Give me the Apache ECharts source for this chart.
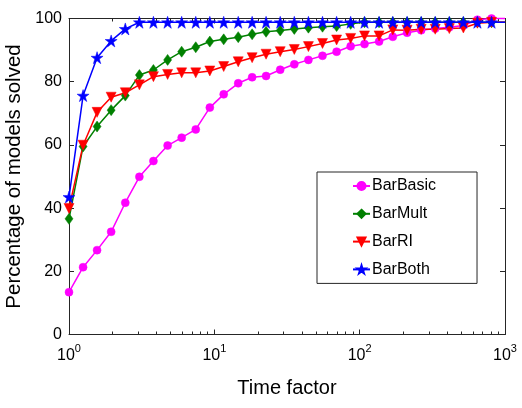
<!DOCTYPE html>
<html>
<head>
<meta charset="utf-8">
<script src="https://cdn.jsdelivr.net/npm/echarts@6/dist/echarts.min.js"></script>
<style>
  html, body { margin: 0; padding: 0; background: #fff; }
  #chart { width: 522px; height: 408px; }
</style>
</head>
<body>
<div id="chart"></div>
<script>
//----------------------Data----------------------
let time_factor = [1, 1.25, 1.56, 1.95, 2.44, 3.05, 3.81, 4.77, 5.96, 7.45, 9.31,
    11.6, 14.6, 18.2, 22.7, 28.4, 35.5, 44.4, 55.5, 69.4, 86.7,
    108, 136, 169, 212, 265, 331, 414, 517, 646, 808, 1000];
let bar_basic = [13.4, 21.3, 26.7, 32.5, 41.7, 49.9, 54.9, 59.8, 62.3, 64.9, 71.8,
    76.0, 79.5, 81.4, 81.8, 83.8, 85.5, 86.9, 88.2, 89.5, 91.2,
    91.9, 92.7, 94.2, 95.5, 96.3, 96.8, 97.2, 97.8, 99.6, 100, 100];
let bar_mult = [36.6, 59.5, 65.8, 71.0, 75.6, 82.1, 83.7, 86.9, 89.5, 90.9, 92.7,
    93.4, 94.1, 95.0, 95.8, 96.2, 96.7, 97.1, 97.4, 97.6, 98.3,
    98.8, 98.8, 98.8, 98.8, 98.8, 98.8, 98.8, 98.8, 98.8, 98.8, 98.8];
let bar_ri = [39.9, 59.9, 70.3, 75.1, 76.5, 79.0, 81.6, 82.3, 82.8, 82.8, 83.4,
    84.8, 86.3, 87.6, 88.7, 89.5, 90.2, 91.1, 92.1, 93.2, 93.7,
    94.5, 94.5, 96.4, 96.3, 96.6, 96.6, 96.8, 97.0, 98.5, 98.8, 98.8];
let bar_both = [43.5, 75.6, 87.6, 92.9, 96.7, 98.8, 98.8, 98.8, 98.8, 98.8, 98.8,
    98.8, 98.8, 98.8, 98.8, 98.8, 98.8, 98.8, 98.8, 98.8, 98.8,
    98.8, 98.8, 98.8, 98.8, 98.8, 98.8, 98.8, 98.8, 98.8, 98.8, 98.8];
let series_names = ['BarBasic', 'BarMult', 'BarRI', 'BarBoth'];
let minor_ticks = [2, 3, 4, 5, 6, 7, 8, 9, 20, 30, 40, 50, 60, 70, 80, 90,
    200, 300, 400, 500, 600, 700, 800, 900];
let y_ticks = [0, 20, 40, 60, 80, 100];

//---------------------Styles---------------------
let font_family = '"Liberation Sans", Arial, Helvetica, sans-serif';
let axis_color = '#262626';
let star_path = 'path://M50,0 L61.2,34.5 L97.6,34.5 L68.2,55.9 L79.4,90.5 L50,69.1 L20.6,90.5 L31.8,55.9 L2.4,34.5 L38.8,34.5 Z';

let chart_dom = document.getElementById('chart');
let chart = echarts.init(chart_dom, null, {renderer: 'canvas'});

//----------------------Grid----------------------
let chart_grid = {
    left: 69,
    right: 17,
    top: 18.5,
    bottom: 73.5,
    outerBoundsMode: 'none',
    containLabel: false
};

//----------------------Axis----------------------
function logAxis(position, with_labels, minor) {
    return {
        type: 'log',
        logBase: 10,
        min: 1,
        max: 1000,
        position: position,
        gridIndex: 0,
        axisLine: {show: !minor, onZero: false, lineStyle: {color: axis_color, width: 1}},
        axisTick: minor ? {
            show: true, inside: true, length: 3,
            customValues: minor_ticks,
            lineStyle: {color: axis_color, width: 1}
        } : {
            show: true, inside: true, length: 5,
            lineStyle: {color: axis_color, width: 1}
        },
        axisLabel: {
            show: with_labels,
            margin: 9,
            formatter: function (v) {
                return '{b|10}{s|' + Math.round(Math.log10(v)) + '}';
            },
            rich: {
                b: {fontSize: 16, fontFamily: font_family, color: '#000', lineHeight: 20, verticalAlign: 'bottom'},
                s: {fontSize: 11, fontFamily: font_family, color: '#000', lineHeight: 20, verticalAlign: 'top'}
            }
        },
        splitLine: {show: false},
        minorTick: {show: false},
        name: with_labels ? 'Time factor' : '',
        nameLocation: 'middle',
        nameGap: 44,
        nameTextStyle: {fontSize: 20, fontFamily: font_family, color: '#000'},
        silent: true
    };
}
let chart_xAxis = [
    logAxis('bottom', true, false),
    logAxis('bottom', false, true),
    logAxis('top', false, false),
    logAxis('top', false, true)
];
function valueAxis(position, with_labels) {
    return {
        type: 'value',
        min: 0,
        max: 100,
        interval: 20,
        position: position,
        gridIndex: 0,
        axisLine: {show: true, onZero: false, lineStyle: {color: axis_color, width: 1}},
        axisTick: {show: true, inside: true, length: 5, customValues: y_ticks, lineStyle: {color: axis_color, width: 1}},
        axisLabel: {show: with_labels, margin: 7, fontSize: 16, fontFamily: font_family, color: '#000'},
        splitLine: {show: false},
        name: with_labels ? 'Percentage of models solved' : '',
        nameLocation: 'middle',
        nameGap: 44,
        nameTextStyle: {fontSize: 20.5, fontFamily: font_family, color: '#000'}
    };
}
let chart_yAxis = [valueAxis('left', true), valueAxis('right', false)];

//---------------------Series---------------------
let series_values = [bar_basic, bar_mult, bar_ri, bar_both];
let series_colors = ['#ff00ff', '#008000', '#ff0000', '#0000ff'];
let series_symbols = ['circle', 'diamond', 'triangle', star_path];
let series_sizes = [8, [8, 11], 10, 12];
let series_rotate = [0, 0, 180, 0];
let last_index = time_factor.length - 1;

let chart_series = [];
for (let i = 0; i < series_names.length; i++) {
    let points = [];
    for (let j = 0; j < time_factor.length; j++) {
        let pt = {value: [time_factor[j], series_values[i][j]]};
        // the line runs on to the right edge, no marker there
        if (j === last_index) pt.symbol = 'none';
        points.push(pt);
    }
    chart_series.push({
        name: series_names[i],
        type: 'line',
        xAxisIndex: 0,
        yAxisIndex: 0,
        data: points,
        symbol: series_symbols[i],
        symbolSize: series_sizes[i],
        symbolRotate: series_rotate[i],
        showAllSymbol: true,
        lineStyle: {color: series_colors[i], width: 1.5},
        itemStyle: {color: series_colors[i], borderColor: series_colors[i], borderWidth: 0.5},
        clip: false,
        animation: false
    });
}

//---------------------Legend---------------------
let chart_legend = {
    data: series_names,
    orient: 'vertical',
    left: 317,
    top: 172,
    padding: [6, 41, 6, 35],
    itemGap: 11.8,
    itemWidth: 17,
    itemHeight: 10,
    borderColor: axis_color,
    borderWidth: 1,
    backgroundColor: '#fff',
    textStyle: {fontSize: 16, lineHeight: 16, fontFamily: font_family, color: '#000', padding: [0, 0, 0, -3]},
    selectedMode: false
};

//------------------Generate Graph------------------
let chart_option = {
    backgroundColor: '#fff',
    animation: false,
    grid: chart_grid,
    xAxis: chart_xAxis,
    yAxis: chart_yAxis,
    legend: chart_legend,
    series: chart_series
};
chart.setOption(chart_option, true);
</script>
</body>
</html>
